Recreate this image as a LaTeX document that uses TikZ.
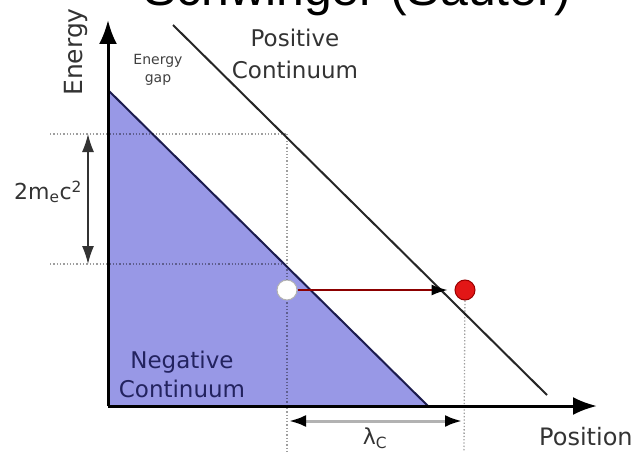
\documentclass[tikz,border=0pt]{standalone}
\usepackage{fontspec}
\setmainfont{DejaVu Sans}
\newfontfamily\titlefont{Liberation Sans}
\usetikzlibrary{arrows.meta,calc,positioning}
\definecolor{seablue}{RGB}{152,152,230}
\definecolor{seaedge}{RGB}{28,28,78}
\definecolor{negtext}{RGB}{35,35,95}
\definecolor{pairred}{RGB}{226,22,22}
\tikzset{
    axis line/.style={line width=3pt, -{Latex[length=24pt,width=18pt]}},
    level dots/.style={dotted, line width=1.3pt, draw=black, draw opacity=0.38},
    gap arrow/.style={line width=1.3pt, black!80, {Latex[length=18pt,width=12pt]}-{Latex[length=18pt,width=12pt]}},
    lambda arrow/.style={line width=3pt, gray!60,
        {Latex[color=black,length=17pt,width=12pt]}-{Latex[color=black,length=17pt,width=12pt]}},
    jump arrow/.style={line width=1.5pt, red!55!black, -{Latex[color=black,length=16pt,width=11pt]}},
    continuum edge/.style={line width=2pt, black!85},
    particle/.style={circle, minimum size=20pt, inner sep=0pt, line width=1pt},
    big label/.style={inner sep=0pt, align=center, text=black!80, font=\fontsize{23}{32}\selectfont}
}

\begin{document}
\begin{tikzpicture}[x=1pt,y=-1pt]
    \useasboundingbox (0,0) rectangle (643,452);

    % negative continuum (filled sea)
    \fill[seablue] (108,90) -- (428,406) -- (108,406) -- cycle;
    \draw[continuum edge, seaedge] (108,90) -- (428,406);

    % positive continuum edge
    \coordinate (posTop) at (173,25);
    \coordinate (posEnd) at (547,395);
    \draw[continuum edge] (posTop) -- (posEnd);

    % guide lines
    \coordinate (gapTopL) at (50,134);
    \coordinate (gapTopR) at (287,134);
    \coordinate (gapBotL) at (50,264);
    \coordinate (gapBotR) at (283,264);
    \coordinate (holeFoot) at (287,452);
    \coordinate (elecFoot) at (464,452);
    \draw[level dots] (gapTopL) -- (gapTopR);
    \draw[level dots] (gapBotL) -- (gapBotR);
    \draw[level dots] (gapTopR) -- (holeFoot);

    % axes
    \coordinate (origin) at (108,406);
    \coordinate (yTip) at (108,20);
    \coordinate (xTip) at (597,406);
    \draw[axis line] (origin) -- (yTip);
    \draw[axis line] (origin) -- (xTip);

    % pair creation
    \node[particle, fill=white, draw=gray!60] (hole) at (287,290) {};
    \node[particle, fill=pairred, draw=red!60!black] (electron) at (465,290) {};
    \draw[level dots] (electron) -- (elecFoot);
    \draw[jump arrow, shorten >=7pt] (hole) -- (electron);

    % energy gap and Compton length
    \coordinate (gapUp) at (88,134);
    \coordinate (gapDown) at (88,264);
    \draw[gap arrow] (gapUp) -- (gapDown);
    \coordinate (lamL) at (289,421);
    \coordinate (lamR) at (462,421);
    \draw[lambda arrow] (lamL) -- (lamR);

    % labels
    \node[font=\titlefont\fontsize{50}{60}\selectfont, anchor=base, inner sep=0pt] (title) at (357,6) {Schwinger (Sauter)};
    \node[rotate=90, inner sep=0pt, text=black!80, font=\fontsize{25}{30}\selectfont] (energy) at (76,52) {Energy};
    \node[inner sep=0pt, align=center, text=black!75, font=\fontsize{14}{18}\selectfont] (gapText) at (158,70) {Energy\\gap};
    \node[big label] (positive) at (295,54) {Positive\\Continuum};
    \node[big label, text=negtext, font=\fontsize{23}{29}\selectfont] (negative) at (182,374) {Negative\\Continuum};
    \node[inner sep=0pt, text=black!80, font=\fontsize{22}{26}\selectfont] (massGap) at (48,192) {2m\textsubscript{e}c\textsuperscript{2}};
    \node[inner sep=0pt, text=black!80, font=\fontsize{22}{26}\selectfont] (lambdaC) at (375,438) {λ\textsubscript{C}};
    \node[inner sep=0pt, anchor=west, text=black!80, font=\fontsize{24}{28}\selectfont] (position) at (539,437) {Position};
\end{tikzpicture}
\end{document}
